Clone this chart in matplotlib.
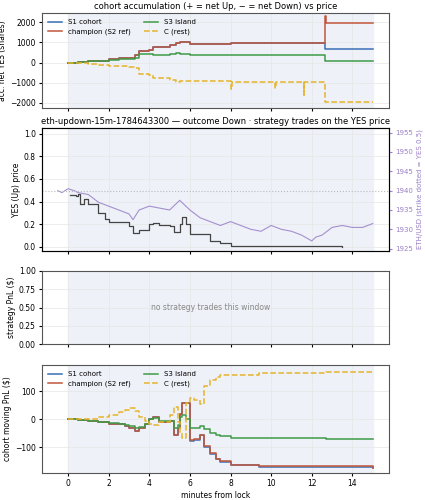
import matplotlib
matplotlib.use("Agg")
import matplotlib.pyplot as plt
import numpy as np

# panel 1: accumulation
acc_t = [0,0.5,1,1.5,2,2.5,3,3.3,3.5,4,4.2,4.5,5,5.3,5.5,6,7,8,8.02,8.05,9,10,10.2,10.22,11,11.6,11.62,12,12.6,12.65,12.7,15]
acc_champ = [0,30,60,80,150,200,220,350,580,600,750,780,850,950,1000,900,920,950,950,950,950,980,980,980,980,980,980,980,980,2300,1950,1950]
acc_s1 = [0,30,60,80,150,200,220,350,580,600,750,780,850,950,1000,900,920,950,950,950,950,980,980,980,980,980,980,980,980,680,680,680]
acc_s3 = [0,50,60,70,120,150,170,200,420,400,380,380,400,450,400,380,350,350,350,350,360,380,380,380,380,380,380,380,380,80,80,80]
acc_c = [0,-40,-60,-100,-150,-180,-200,-250,-550,-600,-750,-780,-850,-950,-900,-900,-900,-950,-1300,-950,-950,-950,-1250,-950,-950,-1600,-950,-950,-950,-1950,-1950,-1950]

# panel 2: YES price and ETH
yes_t = [0.1,0.4,0.5,0.6,0.8,1,1.5,1.8,2,2.5,3,3.2,3.5,4,4.2,4.5,5,5.2,5.5,5.6,5.8,6,6.5,7,7.5,8,9,10,12,13.5]
yes_v = [0.46,0.45,0.47,0.38,0.42,0.38,0.30,0.25,0.22,0.22,0.18,0.12,0.15,0.20,0.21,0.19,0.18,0.13,0.20,0.26,0.20,0.11,0.11,0.05,0.03,0.01,0.01,0.005,0.005,0.0]
eth_t = [-0.5,-0.3,0,0.3,0.5,1,1.5,2,2.5,3,3.2,3.5,4,4.5,5,5.5,6,6.5,7,7.5,8,8.5,9,9.5,10,10.5,11,11.5,12,12.2,12.5,13,13.5,14,14.5,15]
eth_v = [1940,1939.5,1940.5,1940,1939.5,1939,1937,1936,1935,1934,1932.5,1935,1936,1935.5,1935,1937.5,1935,1933,1932,1931,1932,1931,1930,1929.5,1931,1930,1929.5,1928.5,1927,1928,1928.5,1930.5,1931,1930.5,1930.5,1931.5]
strike = 1940

# panel 4: moving PnL
pnl_t = [0,0.5,1,1.5,2,2.5,2.8,3,3.3,3.5,3.8,4,4.2,4.5,5,5.2,5.4,5.5,5.6,5.8,6,6.2,6.5,6.7,7,7.3,7.5,8,9.4,12.7,15]
pnl_champ = [0,-2,-5,-10,-15,-18,-25,-30,-40,-30,-15,0,10,-8,-5,-55,-30,20,60,60,-75,-70,-55,-95,-120,-140,-150,-162,-165,-167,-172]
pnl_s1 = [0,-2,-5,-10,-15,-18,-25,-30,-42,-30,-15,0,10,-8,-5,-55,-30,20,60,60,-77,-72,-57,-97,-122,-142,-152,-164,-168,-168,-172]
pnl_s3 = [0,-2,-5,-10,-13,-15,-20,-25,-32,-28,-15,0,5,-5,-5,-30,-20,10,15,0,-30,-30,-25,-35,-50,-55,-60,-65,-68,-70,-71]
pnl_c = [0,2,3,8,15,25,35,40,30,10,-5,-15,-20,-10,15,45,-10,-50,-65,60,75,70,55,120,140,150,160,160,165,168,170]

plt.rcParams['font.size'] = 5.5
plt.rcParams['xtick.labelsize'] = 5.5
plt.rcParams['ytick.labelsize'] = 5.5
plt.rcParams['xtick.major.size'] = 2.5
plt.rcParams['ytick.major.size'] = 2.5
plt.rcParams['xtick.major.pad'] = 2
plt.rcParams['ytick.major.pad'] = 2
plt.rcParams['axes.labelpad'] = 2
fig = plt.figure(figsize=(4.25, 5), dpi=100)
W, H = 425, 500
def ax_at(top, bot):
    return fig.add_axes([42/W, 1-bot/H, (389-42)/W, (bot-top)/H])

BLUE, RED, GREEN, GOLD = '#3a6fb8', '#c0573a', '#3f9a48', '#e6b32a'
shade = '#eef1f8'
def prep(ax):
    ax.axvspan(0, 15, color=shade, zorder=0)
    ax.set_xlim(-1.28, 15.8)
    ax.grid(True, color='#e6e6e6', lw=0.5)
    for s in ax.spines.values():
        s.set_color('#555555')
    ax.set_xticks(range(0, 15, 2))

ax1 = ax_at(13, 108); prep(ax1)
ax1.step(acc_t, acc_s1, where='post', color=BLUE, lw=1.1, label='S1 cohort')
ax1.step(acc_t, acc_champ, where='post', color=RED, lw=1.1, label='champion (S2 ref)')
ax1.step(acc_t, acc_s3, where='post', color=GREEN, lw=1.1, label='S3 island')
ax1.step(acc_t, acc_c, where='post', color=GOLD, lw=1.1, ls='--', label='C (rest)')
ax1.set_ylim(-2250, 2450)
ax1.set_ylabel('acc. net YES (shares)')
ax1.set_title('cohort accumulation (+ = net Up, − = net Down) vs price', fontsize=6, pad=3)
ax1.legend(ncol=2, loc='upper left', frameon=False, fontsize=5)
ax1.tick_params(labelbottom=False)

ax2 = ax_at(128, 251); prep(ax2)
ax2.step(yes_t, yes_v, where='post', color='#444444', lw=0.9)
ax2.set_ylim(-0.037, 1.05)
ax2.set_ylabel('YES (Up) price')
ax2.set_title('eth-updown-15m-1784643300 — outcome Down · strategy trades on the YES price', fontsize=6, pad=3)
ax2.tick_params(labelbottom=False)
axr = ax2.twinx()
axr.plot(eth_t, eth_v, color='#a58fcf', lw=0.8)
axr.axhline(strike, color='#bbbbbb', ls=':', lw=0.8)
axr.set_ylim(1924.4, 1956.2)
axr.set_ylabel('ETH/USD (strike dotted = YES 0.5)', color='#9a7fc8', fontsize=5)
axr.tick_params(colors='#9a7fc8', labelsize=5)

ax3 = ax_at(271, 344); prep(ax3)
ax3.set_ylim(0, 1)
ax3.set_ylabel('strategy PnL ($)')
ax3.text(7, 0.5, 'no strategy trades this window', ha='center', va='center', color='#888888', fontsize=5.5)
ax3.tick_params(labelbottom=False)

ax4 = ax_at(365, 473); prep(ax4)
ax4.step(pnl_t, pnl_s1, where='post', color=BLUE, lw=1.1, label='S1 cohort')
ax4.step(pnl_t, pnl_champ, where='post', color=RED, lw=1.1, label='champion (S2 ref)')
ax4.step(pnl_t, pnl_s3, where='post', color=GREEN, lw=1.1, label='S3 island')
ax4.step(pnl_t, pnl_c, where='post', color=GOLD, lw=1.1, ls='--', label='C (rest)')
ax4.set_ylim(-191, 194)
ax4.set_ylabel('cohort moving PnL ($)')
ax4.set_xlabel('minutes from lock')
ax4.legend(ncol=2, loc='upper left', frameon=False, fontsize=5)

fig.savefig('out.png', dpi=100)
